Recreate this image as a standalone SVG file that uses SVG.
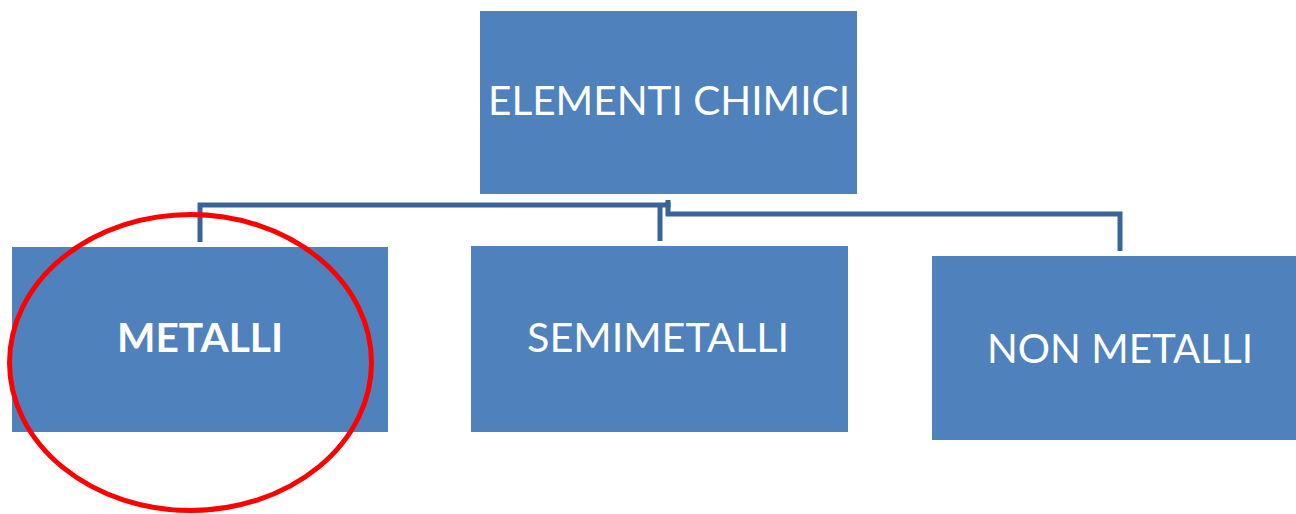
<svg xmlns="http://www.w3.org/2000/svg" width="1296" height="514" viewBox="0 0 1296 514">
  <style>
    .box { fill: #4F81BD; }
    .lbl { font-family: Lato, "Open Sans", "Liberation Sans", sans-serif; font-size: 41px; fill: #FFFFFF; }
    .bold { font-weight: bold; }
    .conn { fill: none; stroke: #3A6499; stroke-width: 5; }
  </style>
  <rect width="1296" height="514" fill="#FFFFFF"/>
  <g id="connectors">
    <path class="conn" d="M200 242 V205 H668 V202"/>
    <path class="conn" d="M660 241 V205"/>
    <path class="conn" d="M668 200 V214 H1120 V251"/>
  </g>
  <g id="node-elementi">
    <rect class="box" x="480" y="11" width="377" height="183"/>
    <text class="lbl" x="488" y="115" textLength="362" lengthAdjust="spacingAndGlyphs">ELEMENTI CHIMICI</text>
  </g>
  <g id="node-metalli">
    <rect class="box" x="12" y="247" width="376" height="185"/>
    <text class="lbl bold" x="117" y="352" textLength="166" lengthAdjust="spacingAndGlyphs">METALLI</text>
  </g>
  <g id="node-semimetalli">
    <rect class="box" x="471" y="246" width="377" height="186"/>
    <text class="lbl" x="527" y="352" textLength="262" lengthAdjust="spacingAndGlyphs">SEMIMETALLI</text>
  </g>
  <g id="node-nonmetalli">
    <rect class="box" x="932" y="256" width="364" height="184"/>
    <text class="lbl" x="987" y="363" textLength="266" lengthAdjust="spacingAndGlyphs">NON METALLI</text>
  </g>
  <g id="highlight">
    <ellipse cx="190.5" cy="362.5" rx="181" ry="148" fill="none" stroke="#FF0000" stroke-width="5"/>
  </g>
</svg>
